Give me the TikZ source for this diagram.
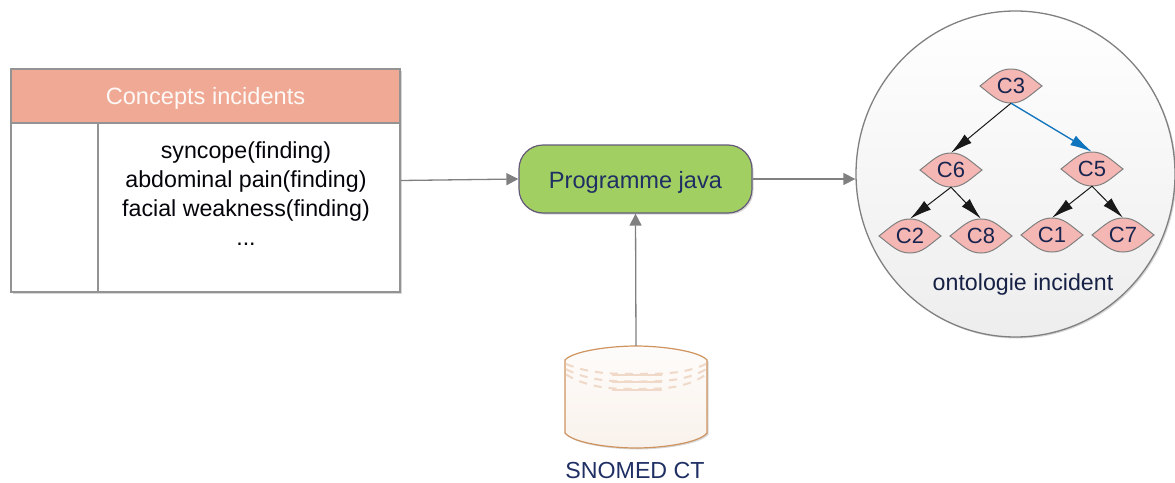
\documentclass[tikz,border=0pt]{standalone}
\usepackage{fontspec}
\setmainfont{Liberation Sans}
\usepackage{tikz}
\usetikzlibrary{arrows.meta,shapes,shadows}
\definecolor{edgegray}{HTML}{808080}
\definecolor{headfill}{HTML}{EFA994}
\definecolor{progfill}{HTML}{A2CF62}
\definecolor{progline}{HTML}{65597A}
\definecolor{navytext}{HTML}{1F2F63}
\definecolor{eyefill}{HTML}{F5B7B3}
\definecolor{cylline}{HTML}{CF935F}
\definecolor{cylstripe}{HTML}{F0D9C8}
\definecolor{bluelink}{HTML}{0F74BE}
\tikzset{softshadow/.style={drop shadow={shadow xshift=1.5pt,shadow yshift=-1.5pt,fill=black!45,opacity=.35}}}
\tikzset{graylink/.style={edgegray,line width=1.3pt,-{Triangle[width=12pt,length=12pt]}}}
\tikzset{treelink/.style={black!90,line width=1pt,-{Latex[width=11pt,length=22pt]}}}
\tikzset{eyeline/.style={draw=edgegray,fill=eyefill,line width=1pt}}
\tikzset{eyetext/.style={minimum width=62pt,minimum height=34pt,inner sep=0pt,text=navytext!80!black,font=\fontsize{22}{26}\selectfont}}
\tikzset{tablebox/.style={draw=edgegray!85,line width=1.3pt,inner sep=0pt}}
% one eye, then its label
\newcommand\eyenode[3]{
  \draw[eyeline,shift={(#2)}] (-31,0) .. controls (-18,-10) and (-12,-17) .. (0,-17)
    .. controls (12,-17) and (18,-10) .. (31,0)
    .. controls (18,10) and (12,17) .. (0,17)
    .. controls (-12,17) and (-18,10) .. (-31,0) -- cycle;
  \node[eyetext] (#1) at (#2) {#3};
}
\begin{document}
\begin{tikzpicture}[x=1pt,y=-1pt]

  \useasboundingbox (0,0) rectangle (1175,482);

  % <table>
  \node[tablebox,fill=white,softshadow,minimum width=389pt,minimum height=223pt] (concepts) at (205.5,180.5) {};
  \node[tablebox,fill=headfill,minimum width=389pt,minimum height=54pt,text height=20pt,text depth=4pt,text=white!92!headfill,font=\fontsize{23.6}{26}\selectfont] (header) at (205.5,96) {Concepts incidents};
  \node[tablebox,minimum width=87pt,minimum height=169pt] (blank) at (54.5,207.5) {};
  \node[align=center,inner sep=0pt,text=black!90!navytext,font=\fontsize{23.2}{29}\selectfont] (findings) at (246,194) {syncope(finding)\\abdominal pain(finding)\\facial weakness(finding)\\...};
  % </table>

  \node[draw=progline,fill=progfill,line width=1.2pt,rounded corners=24pt,softshadow,minimum width=233pt,minimum height=68pt,text height=22pt,text depth=4pt,text=navytext,font=\fontsize{23.6}{26}\selectfont] (prog) at (635.5,179) {Programme java};

  % <ontology>
  \node[ellipse,draw=edgegray,line width=1.3pt,inner sep=0pt,top color=white,bottom color=black!7,minimum width=319pt,minimum height=326pt,softshadow] (onto) at (1015.5,174) {};
  \eyenode{cthree}{1011,86}{C3}
  \eyenode{csix}{951,170}{C6}
  \eyenode{cfive}{1092,169}{C5}
  \eyenode{ctwo}{910,236}{C2}
  \eyenode{ceight}{981,236}{C8}
  \eyenode{cone}{1052,235}{C1}
  \eyenode{cseven}{1123,235}{C7}
  \node[text=navytext!70!black,inner sep=0pt,font=\fontsize{23.2}{26}\selectfont] (ontolabel) at (1023,284) {ontologie incident};
  % </ontology>

  % <cylinder>
  \node[minimum width=142pt,minimum height=102pt,inner sep=0pt] (snomed) at (636,397) {};
  \draw[draw=cylline,line width=1.2pt,top color=white!97!cylline,bottom color=white!88!cylline,softshadow]
    (565,360) .. controls (573,351) and (610,346) .. (636,346)
    .. controls (662,346) and (699,351) .. (707,360) -- (707,433)
    .. controls (699,443) and (662,448) .. (636,448)
    .. controls (610,448) and (573,443) .. (565,433) -- cycle;
  \foreach \r in {0,7.5,15}{
    \draw[cylstripe,line width=2pt,dash pattern=on 8pt off 7pt]
      (566,364+\r*.7) .. controls (590,374+\r) and (615,374+\r) .. (637,374+\r)
      .. controls (660,374+\r) and (685,374+\r) .. (706,364+\r*.7);
    \draw[cylstripe,line width=2pt] (612,374.5+\r) -- (662,374.5+\r);
  }
  \node[text=navytext,inner sep=0pt,font=\fontsize{23.2}{26}\selectfont] (snomedlabel) at (635,471) {SNOMED CT};
  % </cylinder>

  \draw[graylink] (concepts.east) -- (prog.west); % table->prog
  \draw[graylink] (prog.east) -- (prog.east -| onto.west); % prog->onto
  \draw[graylink] (snomed.north) -- (prog.south); % snomed->prog

  \draw[treelink] (cthree.south) -- (csix.north); % C3->C6
  \draw[treelink,bluelink,line width=1.3pt] (cthree.south) -- (cfive.north); % C3->C5
  \draw[treelink] (csix.south) -- (ctwo.north); % C6->C2
  \draw[treelink] (csix.south) -- (ceight.north); % C6->C8
  \draw[treelink] (cfive.south) -- (cone.north); % C5->C1
  \draw[treelink] (cfive.south) -- (cseven.north); % C5->C7

\end{tikzpicture}
\end{document}
